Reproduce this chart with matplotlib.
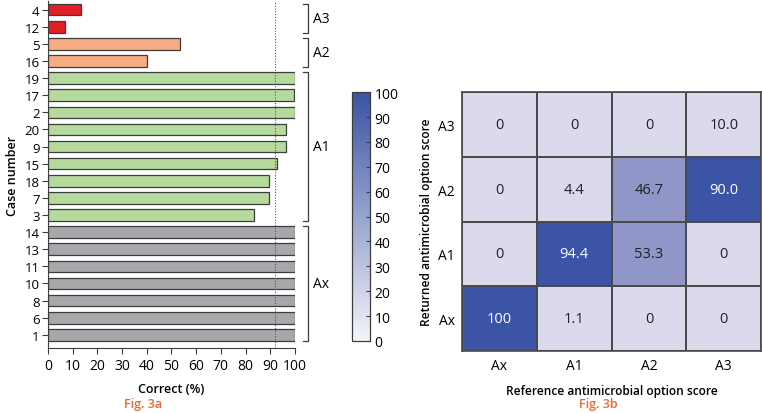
import numpy as np
import matplotlib
matplotlib.use("Agg")
import matplotlib.pyplot as plt
from matplotlib.colors import LinearSegmentedColormap, ListedColormap, BoundaryNorm, Normalize
from matplotlib.cm import ScalarMappable

plt.rcParams['font.family'] = ['Open Sans', 'DejaVu Sans']

# Fig. 3a data: case number, percent correct, group
cases = ['4', '12', '5', '16', '19', '17', '2', '20', '9', '15', '18', '7', '3',
         '14', '13', '11', '10', '8', '6', '1']
correct = [13.3, 6.7, 53.3, 40.0, 100, 99.6, 100, 96.3, 96.3, 92.9, 89.6, 89.6, 83.3,
           100, 100, 100, 100, 100, 100, 100]
groups = ['A3', 'A3', 'A2', 'A2', 'A1', 'A1', 'A1', 'A1', 'A1', 'A1', 'A1', 'A1', 'A1',
          'Ax', 'Ax', 'Ax', 'Ax', 'Ax', 'Ax', 'Ax']
group_colors = {'A3': '#E31E25', 'A2': '#F5AC82', 'A1': '#B6DA9E', 'Ax': '#A6A8AB'}
threshold = 92

# Fig. 3b data: rows = returned score (top to bottom), cols = reference score
returned = ['A3', 'A2', 'A1', 'Ax']
reference = ['Ax', 'A1', 'A2', 'A3']
matrix = np.array([[0, 0, 0, 10.0],
                   [0, 4.4, 46.7, 90.0],
                   [0, 94.4, 53.3, 0],
                   [100, 1.1, 0, 0]])

edge = '#3d3d3d'
orange = '#EA6A2E'

fig = plt.figure(figsize=(7.62, 4.14), dpi=100)

# ---- bar chart ----
ax = fig.add_axes([0.063, 0.157, 0.324, 0.838])
ypos = np.arange(len(cases))
ax.barh(ypos, correct, height=0.68, color=[group_colors[g] for g in groups],
        edgecolor=edge, linewidth=0.9)
ax.axvline(threshold, color='#555555', linestyle=(0, (1, 1.5)), linewidth=0.8)
ax.set_xlim(0, 100)
ax.set_ylim(len(cases) - 1 + 0.77, -0.5)
ax.set_yticks(ypos)
ax.set_yticklabels(cases, fontsize=9.5)
ax.set_xticks(range(0, 101, 10))
ax.tick_params(axis='x', labelsize=10, length=4, color=edge)
ax.tick_params(axis='y', length=4, color=edge, pad=2)
for s in ['top', 'right']:
    ax.spines[s].set_visible(False)
for s in ['left', 'bottom']:
    ax.spines[s].set_color(edge)
ax.set_xlabel('Correct (%)', fontsize=9, fontweight='semibold', labelpad=6)
ax.set_ylabel('Case number', fontsize=9, fontweight='semibold', labelpad=4)

# group brackets
for g in ['A3', 'A2', 'A1', 'Ax']:
    idx = [i for i, gg in enumerate(groups) if gg == g]
    y0, y1 = idx[0] - 0.35, idx[-1] + 0.35
    ax.plot([103.2, 105.3, 105.3, 103.2], [y0, y0, y1, y1], color=edge,
            linewidth=0.9, clip_on=False)
    ax.text(107.3, (y0 + y1) / 2, g, fontsize=10, va='center', ha='left')

fig.text(143 / 762, 1 - 405 / 414, 'Fig. 3a', color=orange,
         fontsize=9, fontweight='semibold', ha='center', va='center')

# ---- colour bar ----
cbar_cmap = LinearSegmentedColormap.from_list('lav', ['#F4F4FA', '#3A52A3'])
cax = fig.add_axes([0.462, 0.174, 0.024, 0.601])
cb = fig.colorbar(ScalarMappable(norm=Normalize(0, 100), cmap=cbar_cmap), cax=cax)
cb.set_ticks(range(0, 101, 10))
cb.ax.tick_params(labelsize=10, direction='in', length=3, color=edge, pad=3)
cb.outline.set_edgecolor(edge)
cb.outline.set_linewidth(0.9)

# ---- heatmap ----
hax = fig.add_axes([0.606, 0.1505, 0.393, 0.624])
cell_cmap = ListedColormap(['#DADAEC', '#9196C8', '#3B54A5'])
cell_norm = BoundaryNorm([0, 33.3, 66.7, 100.01], cell_cmap.N)
hax.pcolormesh(matrix[::-1], cmap=cell_cmap, norm=cell_norm,
               edgecolors='#4a4a4a', linewidth=1.2)
for r in range(len(returned)):
    for c in range(len(reference)):
        v = matrix[r, c]
        if v == 0:
            s = '0'
        elif v == 100:
            s = '100'
        else:
            s = f'{v:.1f}'
        hax.text(c + 0.5, len(returned) - 1 - r + 0.5, s, ha='center', va='center',
                 fontsize=10.5, color='white' if v > 66.7 else '#222222')
hax.set_xlim(0, 4)
hax.set_ylim(0, 4)
hax.set_xticks(np.arange(len(reference)) + 0.5)
hax.set_xticklabels(reference)
hax.set_yticks(np.arange(len(returned)) + 0.5)
hax.set_yticklabels(returned[::-1])
hax.tick_params(axis='x', length=0, labelsize=10, pad=5)
hax.tick_params(axis='y', length=0, labelsize=10, pad=5)
for s in hax.spines.values():
    s.set_color('#4a4a4a')
    s.set_linewidth(1.2)
hax.set_xlabel('Reference antimicrobial option score', fontsize=8.6,
               fontweight='semibold', labelpad=8)
hax.set_ylabel('Returned antimicrobial option score', fontsize=8.6,
               fontweight='semibold', labelpad=4)
fig.text(598 / 762, 1 - 405 / 414, 'Fig. 3b', color=orange,
         fontsize=9, fontweight='semibold', ha='center', va='center')

fig.savefig('out.png', dpi=100)
